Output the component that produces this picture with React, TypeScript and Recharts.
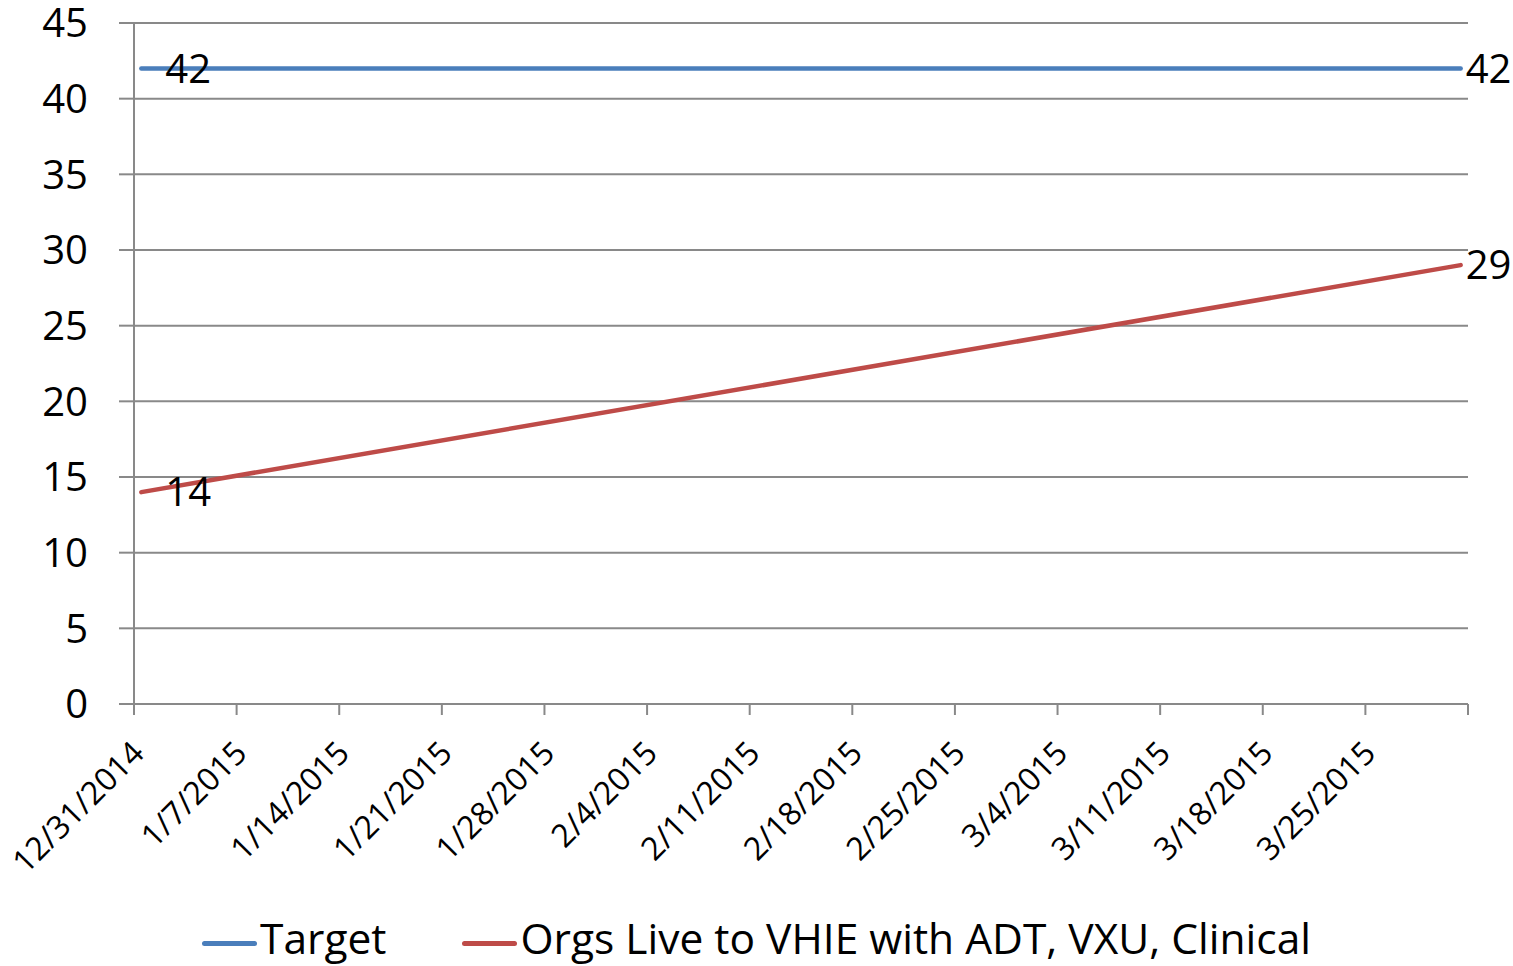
import { LineChart, Line, XAxis, YAxis, CartesianGrid, LabelList } from "recharts";

// dates of the plotted points and the two series
const pointDates = ["12/31/2014", "3/31/2015"];
const targetValues = [42, 42];
const orgsValues = [14, 29];

// weekly tick labels on the date axis
const tickDates = [
	"12/31/2014",
	"1/7/2015",
	"1/14/2015",
	"1/21/2015",
	"1/28/2015",
	"2/4/2015",
	"2/11/2015",
	"2/18/2015",
	"2/25/2015",
	"3/4/2015",
	"3/11/2015",
	"3/18/2015",
	"3/25/2015",
];
const axisStart = "12/31/2014";
const axisEnd = "4/1/2015";
const yTicks = [0, 5, 10, 15, 20, 25, 30, 35, 40, 45];

const seriesNames = ["Target", "Orgs Live to VHIE with ADT, VXU, Clinical"];
const seriesColors = ["#4A7EBB", "#BE4B48"];

const FONT = "'Open Sans', sans-serif";
const FS = 40;
const GRID = "#898989";

const dayIndex = (s: string) =>
	Math.round((Date.parse(s) - Date.parse(axisStart)) / 86400000);

// Excel date axis puts points in the middle of their day
const data = pointDates.map((d, i) => ({
	x: dayIndex(d) + 0.5,
	target: targetValues[i],
	orgs: orgsValues[i],
}));

const xTickValues = [...tickDates, axisEnd].map(dayIndex);
const tickLabel = (v: number) => {
	const i = tickDates.findIndex((d) => dayIndex(d) === v);
	return i >= 0 ? tickDates[i] : "";
};

const DateTick = (props: any) => {
	const { x, y, payload } = props;
	return (
		<g transform={`translate(${x + 12},${y + 40})`}>
			<text
				x={0}
				y={0}
				transform="rotate(-45)"
				textAnchor="end"
				fontFamily={FONT}
				fontSize={32}
				fill="#000"
			>
				{tickLabel(payload.value)}
			</text>
		</g>
	);
};

const pointLabel = (props: any) => {
	const { x, y, value, index } = props;
	const dx = index === 0 ? 24 : 5;
	return (
		<text
			x={x + dx}
			y={y}
			dy="0.355em"
			fontFamily={FONT}
			fontSize={FS}
			fill="#000"
		>
			{value}
		</text>
	);
};

export default function App() {
	return (
		<div style={{ position: "absolute", left: 0, top: 0, width: 1513, height: 966, background: "#fff" }}>
			<LineChart
				width={1513}
				height={966}
				data={data}
				margin={{ top: 23, right: 45, left: 0, bottom: 0 }}
			>
				<CartesianGrid vertical={false} stroke={GRID} strokeWidth={2} />
				<XAxis
					type="number"
					dataKey="x"
					domain={[0, dayIndex(axisEnd)]}
					ticks={xTickValues}
					interval={0}
					height={262}
					tickSize={11}
					tickMargin={0}
					axisLine={{ stroke: GRID, strokeWidth: 2 }}
					tickLine={{ stroke: GRID, strokeWidth: 2 }}
					tick={<DateTick />}
				/>
				<YAxis
					type="number"
					domain={[0, 45]}
					ticks={yTicks}
					interval={0}
					width={134}
					tickSize={15}
					tickMargin={31}
					axisLine={{ stroke: GRID, strokeWidth: 2 }}
					tickLine={{ stroke: GRID, strokeWidth: 2 }}
					tick={{ fontFamily: FONT, fontSize: FS, fill: "#000" }}
				/>
				<Line
					dataKey="target"
					name={seriesNames[0]}
					stroke={seriesColors[0]}
					strokeWidth={4.5}
					strokeLinecap="round"
					dot={false}
					isAnimationActive={false}
				>
					<LabelList dataKey="target" content={pointLabel} />
				</Line>
				<Line
					dataKey="orgs"
					name={seriesNames[1]}
					stroke={seriesColors[1]}
					strokeWidth={4.5}
					strokeLinecap="round"
					dot={false}
					isAnimationActive={false}
				>
					<LabelList dataKey="orgs" content={pointLabel} />
				</Line>
			</LineChart>
			<div
				style={{
					position: "absolute",
					left: 0,
					top: 913,
					width: 1513,
					display: "flex",
					justifyContent: "center",
					alignItems: "center",
					fontFamily: FONT,
					fontSize: 42.5,
					lineHeight: "50px",
					color: "#000",
				}}
			>
				{seriesNames.map((n, i) => (
					<div key={n} style={{ display: "flex", alignItems: "center", marginLeft: i ? 76 : 0 }}>
						<div
							style={{
								width: 55,
								height: 5,
								borderRadius: 2.5,
								background: seriesColors[i],
								marginRight: 3,
								position: "relative",
								top: 5,
							}}
						/>
						<span>{n}</span>
					</div>
				))}
			</div>
		</div>
	);
}
